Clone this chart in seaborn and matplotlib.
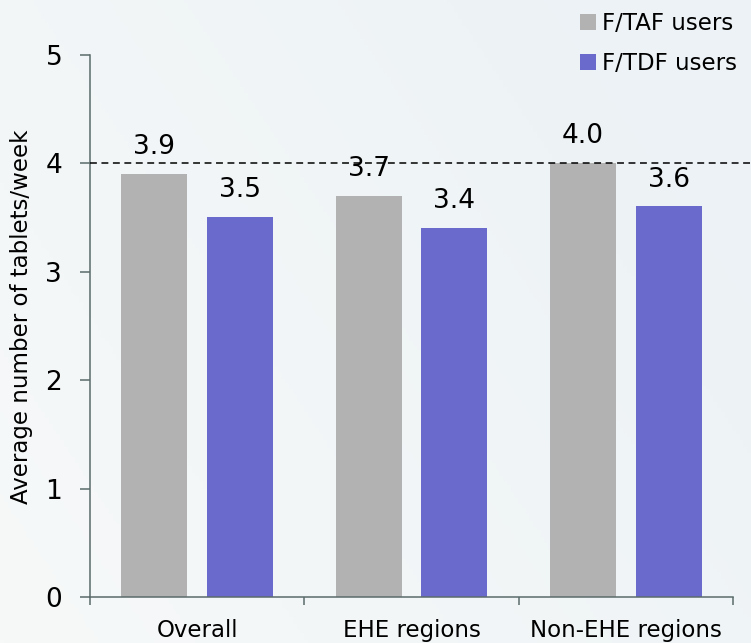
import numpy as np
import pandas as pd
import matplotlib
matplotlib.use("Agg")
import matplotlib.pyplot as plt
import seaborn as sns

# values
regions = ['Overall', 'EHE regions', 'Non-EHE regions']
taf_users = [3.9, 3.7, 4.0]
tdf_users = [3.5, 3.4, 3.6]
series_names = ['F/TAF users', 'F/TDF users']
y_ticks = [0, 1, 2, 3, 4, 5]
reference_line = 4

df = pd.DataFrame({
    'region': regions * 2,
    'tablets': taf_users + tdf_users,
    'drug': [series_names[0]] * 3 + [series_names[1]] * 3,
})

sns.set_theme(style='white')
plt.rcParams['font.family'] = ['DejaVu Sans']
plt.rcParams['text.color'] = 'black'
plt.rcParams['axes.labelcolor'] = 'black'
plt.rcParams['xtick.labelcolor'] = 'black'
plt.rcParams['ytick.labelcolor'] = 'black'

fig = plt.figure(figsize=(7.51, 6.43), dpi=100)

# soft background gradient
bg = fig.add_axes([0, 0, 1, 1], zorder=-10)
gx = np.linspace(0, 1, 200)
gy = np.linspace(0, 1, 200)
GX, GY = np.meshgrid(gx, gy)
t = np.clip(0.7 * GX + 0.4 * (1 - GY), 0, 1)
c0 = np.array([0xf7, 0xf9, 0xf9]) / 255
c1 = np.array([0xec, 0xf2, 0xf5]) / 255
img = c0[None, None, :] * (1 - t[..., None]) + c1[None, None, :] * t[..., None]
bg.imshow(img, aspect='auto', extent=[0, 1, 0, 1])
bg.axis('off')

ax = fig.add_axes([0.1198, 0.0715, 0.8562, 0.8437])
ax.set_facecolor('none')

sns.barplot(data=df, x='region', y='tablets', hue='drug',
            palette=['#b2b2b2', '#6a6acd'], width=0.8, gap=0.23,
            saturation=1, edgecolor='none', linewidth=0, ax=ax)

for cont in ax.containers:
    ax.bar_label(cont, fmt='%.1f', padding=10, fontsize=19, color='black')

ax.axhline(reference_line, xmin=0, xmax=(751 - 90) / 643, color='black',
           lw=1.1, dashes=(4.5, 3), clip_on=False, zorder=3)

ax.set_ylim(0, 5)
ax.set_xlim(-0.5, 2.5)
ax.set_yticks(y_ticks)
ax.tick_params(axis='y', labelsize=19, length=7, width=1.1, color='#5b6b6b',
               direction='out', pad=13, left=True)
ax.set_xticks(range(len(regions)))
ax.set_xticklabels(regions)
ax.tick_params(axis='x', which='major', labelsize=16.5, length=0, pad=16)
ax.set_xticks([-0.5, 0.5, 1.5, 2.5], minor=True)
ax.tick_params(axis='x', which='minor', length=6, width=1.1, color='#5b6b6b',
               direction='out', bottom=True)

ax.set_xlabel('')
ax.set_ylabel('Average number of tablets/week', fontsize=16.5)
ax.yaxis.set_label_coords(-0.088, 0.516)

for side in ['top', 'right']:
    ax.spines[side].set_visible(False)
for side in ['left', 'bottom']:
    ax.spines[side].set_color('#5b6b6b')
    ax.spines[side].set_linewidth(1.1)

sns.move_legend(ax, 'upper right', bbox_to_anchor=(0.982, 0.982),
                bbox_transform=fig.transFigure, frameon=False, title=None,
                fontsize=16.5, handlelength=0.7, handleheight=0.7,
                handletextpad=0.3, labelspacing=0.75, borderaxespad=0,
                borderpad=0)

fig.savefig('out.png', dpi=100)
